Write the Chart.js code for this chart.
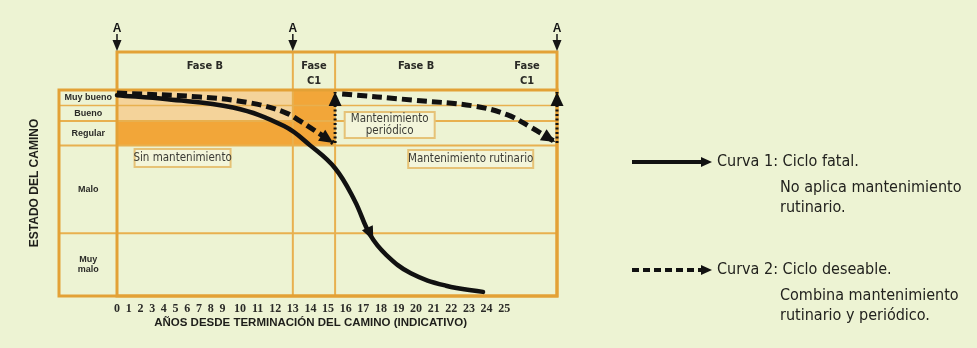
<!DOCTYPE html>
<html>
<head>
<meta charset="utf-8">
<script src="https://cdn.jsdelivr.net/npm/chart.js@4.4.1/dist/chart.umd.min.js"></script>
<style>
    html, body { margin: 0; padding: 0; background: #edf3d3; }
</style>
</head>
<body>
<canvas id="roadConditionCycleChart" width="977" height="348"></canvas>
<script>

// x = years since road completion, y = road condition index (0 = worst, 100 = best)
const yearTicks = [0, 1, 2, 3, 4, 5, 6, 7, 8, 9, 10, 11, 12, 13, 14, 15, 16, 17, 18, 19, 20, 21, 22, 23, 24, 25];

const conditionLabels = [['Muy', 'malo'], ['Malo'], ['Regular'], ['Bueno'], ['Muy bueno']];
const conditionEdges = [0, 30.5, 73, 85, 92.5, 100];

const phaseLabels = [['Fase B'], ['Fase', 'C1'], ['Fase B'], ['Fase', 'C1']];
const phaseEdges = [0, 13, 15.4, 24.6, 28];
const phaseLines = [0, 13, 15.4, 28];
const interventionYears = [0, 13, 28];

// curve 1: no routine maintenance
const fatalYears = [0, 4.3, 9.6, 12.5, 14, 15.4, 16.5, 17.4, 18.3, 19.7, 21.7, 23.8];
const fatalCondition = [97.5, 95.5, 91.5, 82.5, 73, 62, 46.5, 29.5, 20, 11, 5, 2];

// curve 2: routine + periodic maintenance
const desiredYearsA = [0, 7.1, 10.6, 12.5, 13.4, 15.3];
const desiredConditionA = [98.5, 96.6, 93.7, 89.3, 85, 74.3];
const desiredYearsB = [15.8, 19.8, 23.3, 25.2, 26.5, 27.9];
const desiredConditionB = [98.1, 95.1, 92.2, 87.9, 82, 74.8];

// periodic maintenance jumps back up
const periodicYears = [15.4, 28];
const periodicCondition = [74.3, 99];

const legendNotes = [
    ['No aplica mantenimiento', 'rutinario.'],
    ['Combina mantenimiento', 'rutinario y periódico.']
];


// linear scale with the years after 9 stretched, like the printed tick row
class YearScale extends Chart.LinearScale {
    _stretched(v) {
        const s = this.options.stretch;
        return v <= s.split ? v : s.split + (v - s.split) * s.ratio;
    }
    getPixelForValue(value) {
        if (value === null || isNaN(value)) {
            return NaN;
        }
        const a = this._stretched(this.min);
        const b = this._stretched(this.max);
        return this.getPixelForDecimal((this._stretched(value) - a) / (b - a));
    }
    getValueForPixel(pixel) {
        const s = this.options.stretch;
        const a = this._stretched(this.min);
        const b = this._stretched(this.max);
        const u = a + this.getDecimalForPixel(pixel) * (b - a);
        return u <= s.split ? u : s.split + (u - s.split) / s.ratio;
    }
}
YearScale.id = 'years';
YearScale.defaults = Chart.LinearScale.defaults;
Chart.register(YearScale);


function toPoints(xs, ys) {
    return xs.map((v, i) => ({x: v, y: ys[i]}));
}

function arrowHead(ctx, tipX, tipY, fromX, fromY, len, half) {
    const a = Math.atan2(tipY - fromY, tipX - fromX);
    const bx = tipX - len * Math.cos(a);
    const by = tipY - len * Math.sin(a);
    ctx.beginPath();
    ctx.moveTo(tipX, tipY);
    ctx.lineTo(bx + half * Math.sin(a), by - half * Math.cos(a));
    ctx.lineTo(bx - half * Math.sin(a), by + half * Math.cos(a));
    ctx.closePath();
    ctx.fill();
}

function line(ctx, x0, y0, x1, y1) {
    ctx.beginPath();
    ctx.moveTo(x0, y0);
    ctx.lineTo(x1, y1);
    ctx.stroke();
}

const condensed = '"Liberation Sans Narrow", "DejaVu Sans Condensed", sans-serif';

const roadDiagram = {
    id: 'roadDiagram',

    beforeDatasetsDraw(chart, args, opts) {
        const {ctx, chartArea: area, scales: {x, y}} = chart;
        ctx.save();

        opts.shades.forEach(s => {
            const x0 = x.getPixelForValue(s.years[0]);
            const x1 = x.getPixelForValue(s.years[1]);
            const y0 = y.getPixelForValue(s.condition[1]);
            const y1 = y.getPixelForValue(s.condition[0]);
            ctx.fillStyle = s.color;
            ctx.fillRect(x0, y0, x1 - x0, y1 - y0);
        });

        ctx.strokeStyle = opts.innerLine;
        conditionEdges.slice(1, -1).forEach((c, i) => {
            ctx.lineWidth = i === 3 ? 1.5 : 2;
            line(ctx, opts.columnLeft, y.getPixelForValue(c), area.right, y.getPixelForValue(c));
        });
        ctx.lineWidth = 2;
        phaseLines.slice(1, -1).forEach(v => {
            line(ctx, x.getPixelForValue(v), opts.headerTop, x.getPixelForValue(v), area.bottom);
        });

        ctx.strokeStyle = opts.frameLine;
        ctx.lineWidth = 3;
        ctx.strokeRect(opts.columnLeft, area.top, area.right - opts.columnLeft, area.bottom - area.top);
        ctx.strokeRect(area.left, opts.headerTop, area.right - area.left, area.bottom - opts.headerTop);

        // note boxes
        ctx.font = '11.5px ' + condensed;
        ctx.textAlign = 'center';
        ctx.textBaseline = 'middle';
        opts.notes.forEach(n => {
            const cx = x.getPixelForValue(n.year);
            const cy = y.getPixelForValue(n.condition);
            ctx.fillStyle = '#f3f5da';
            ctx.fillRect(cx - n.w / 2, cy - n.h / 2, n.w, n.h);
            ctx.strokeStyle = '#e6c276';
            ctx.lineWidth = 2;
            ctx.strokeRect(cx - n.w / 2, cy - n.h / 2, n.w, n.h);
            ctx.fillStyle = '#3b3b35';
            n.text.forEach((t, i) => {
                ctx.fillText(t, cx, cy + (i - (n.text.length - 1) / 2) * 12.5);
            });
        });
        ctx.restore();
    },

    afterDatasetsDraw(chart) {
        const ctx = chart.ctx;
        ctx.save();
        ctx.fillStyle = '#111';
        chart.data.datasets.forEach((ds, i) => {
            const pts = chart.getDatasetMeta(i).data;
            if (ds.midArrow !== undefined) {
                const p = pts[ds.midArrow], a = pts[ds.midArrow - 1], b = pts[ds.midArrow + 1];
                const d = Math.hypot(b.x - a.x, b.y - a.y);
                arrowHead(ctx, p.x + (b.x - a.x) / d * 6, p.y + (b.y - a.y) / d * 6, a.x, a.y, 14, 6);
            }
            if (ds.endArrow) {
                const p = pts[pts.length - 1], q = pts[pts.length - 2];
                arrowHead(ctx, p.x, p.y, q.x, q.y, 14, 6.5);
            }
        });
        ctx.restore();
    },

    afterDraw(chart, args, opts) {
        const {ctx, chartArea: area, scales: {x, y}} = chart;
        ctx.save();
        ctx.fillStyle = '#2a2a26';
        ctx.textAlign = 'center';
        ctx.textBaseline = 'middle';

        // phase header
        ctx.font = 'bold 11px ' + condensed;
        phaseLabels.forEach((lab, i) => {
            const cx = (x.getPixelForValue(phaseEdges[i]) + x.getPixelForValue(phaseEdges[i + 1])) / 2;
            lab.forEach((t, j) => ctx.fillText(t, cx, opts.headerTop + 14 + j * 15));
        });

        // intervention markers
        ctx.fillStyle = '#151515';
        interventionYears.forEach(v => {
            const px = x.getPixelForValue(v);
            ctx.font = 'bold 12px "Liberation Sans", Arial, sans-serif';
            ctx.fillText('A', px, 29);
            ctx.strokeStyle = '#151515';
            ctx.lineWidth = 1.5;
            line(ctx, px, 34, px, 42);
            ctx.beginPath();
            ctx.moveTo(px - 4.5, 40);
            ctx.lineTo(px + 4.5, 40);
            ctx.lineTo(px, opts.headerTop - 1);
            ctx.closePath();
            ctx.fill();
        });

        // axis titles
        ctx.fillStyle = '#1e1e1a';
        ctx.font = 'bold 11.5px "Liberation Sans", Arial, sans-serif';
        ctx.fillText('AÑOS DESDE TERMINACIÓN DEL CAMINO (INDICATIVO)',
            (x.getPixelForValue(yearTicks[0]) + x.getPixelForValue(yearTicks[yearTicks.length - 1])) / 2, 323);
        ctx.save();
        ctx.translate(35, (area.top + area.bottom) / 2 - 10);
        ctx.rotate(-Math.PI / 2);
        ctx.font = 'bold 12px "Liberation Sans", Arial, sans-serif';
        ctx.fillText('ESTADO DEL CAMINO', 0, 0);
        ctx.restore();

        // legend
        const lg = opts.legend;
        ctx.textAlign = 'left';
        lg.rows.forEach((rowY, i) => {
            const ds = chart.data.datasets[i === 0 ? 0 : 1];
            ctx.strokeStyle = '#111';
            ctx.fillStyle = '#111';
            ctx.lineWidth = 4;
            ctx.setLineDash(i === 0 ? [] : [7, 4]);
            line(ctx, lg.lineStart, rowY, lg.lineEnd - 8, rowY);
            ctx.setLineDash([]);
            arrowHead(ctx, lg.lineEnd, rowY, lg.lineStart, rowY, 11, 5);
            ctx.fillStyle = '#22221e';
            ctx.font = '16px ' + condensed;
            ctx.fillText(ds.label, lg.textX, rowY);
            legendNotes[i].forEach((t, j) => ctx.fillText(t, lg.noteX, rowY + 26 + j * 20));
        });
        ctx.restore();
    }
};


function createRoadCycleChart() {

    const data = {
        datasets: [{
            label: 'Curva 1: Ciclo fatal.',
            data: toPoints(fatalYears, fatalCondition),
            borderColor: '#111',
            borderWidth: 4.5,
            borderCapStyle: 'round',
            tension: 0.4,
            midArrow: 7
            },
            {
            label: 'Curva 2: Ciclo deseable.',
            data: toPoints(desiredYearsA, desiredConditionA),
            borderColor: '#111',
            borderWidth: 5,
            borderDash: [10, 5],
            tension: 0.4,
            endArrow: true
            },
            {
            label: 'Curva 2: Ciclo deseable.',
            data: toPoints(desiredYearsB, desiredConditionB),
            borderColor: '#111',
            borderWidth: 5,
            borderDash: [10, 5],
            tension: 0.4,
            endArrow: true
            },
            {
            label: 'Mantenimiento periódico',
            data: toPoints([periodicYears[0], periodicYears[0]], periodicCondition),
            borderColor: '#111',
            borderWidth: 3,
            borderDash: [2, 2.5],
            endArrow: true
            },
            {
            label: 'Mantenimiento periódico',
            data: toPoints([periodicYears[1], periodicYears[1]], periodicCondition),
            borderColor: '#111',
            borderWidth: 3,
            borderDash: [2, 2.5],
            endArrow: true
            }
        ]
    };

    const config = {
        type: 'scatter',
        data: data,
        options: {
            responsive: false,
            animation: false,
            showLine: true,
            clip: false,
            elements: {
                point: { radius: 0, hoverRadius: 0 }
            },
            layout: {
                padding: { top: 90, right: 420, left: 0, bottom: 0 }
            },
            plugins: {
                legend: { display: false },
                tooltip: { enabled: false },
                roadDiagram: {
                    columnLeft: 59,
                    headerTop: 52,
                    frameLine: '#e3a136',
                    innerLine: '#e8b04f',
                    shades: [
                        { years: [0, 13], condition: [85, 100], color: '#f4d39a' },
                        { years: [0, 15.4], condition: [73, 85], color: '#f2a639' },
                        { years: [13, 15.4], condition: [73, 100], color: '#f2a639' }
                    ],
                    notes: [
                        { year: 5.6, condition: 67, w: 96, h: 18, text: ['Sin mantenimiento'] },
                        { year: 18.5, condition: 83, w: 90, h: 26, text: ['Mantenimiento', 'periódico'] },
                        { year: 23.1, condition: 66.5, w: 125, h: 18, text: ['Mantenimiento rutinario'] }
                    ],
                    legend: { lineStart: 632, lineEnd: 712, textX: 717, noteX: 780, rows: [162, 270] }
                }
            },
            scales: {
                x: {
                    type: 'years',
                    min: 0,
                    max: 28,
                    stretch: { split: 9, ratio: 1.504 },
                    afterBuildTicks: s => { s.ticks = yearTicks.map(v => ({value: v})); },
                    afterFit: s => { s.height = 52; },
                    grid: { display: false },
                    border: { display: false },
                    ticks: {
                        autoSkip: false,
                        maxRotation: 0,
                        padding: -2,
                        color: '#2b2b28',
                        font: { family: '"Liberation Serif", serif', weight: 'bold', size: 12 }
                    }
                },
                y: {
                    min: 0,
                    max: 100,
                    afterBuildTicks: s => {
                        s.ticks = conditionLabels.map((l, i) => ({value: (conditionEdges[i] + conditionEdges[i + 1]) / 2}));
                    },
                    afterFit: s => { s.width = 117; },
                    grid: { display: false },
                    border: { display: false },
                    ticks: {
                        crossAlign: 'center',
                        padding: -3,
                        color: '#2b2b28',
                        font: { family: '"Liberation Sans", Arial, sans-serif', weight: 'bold', size: 9, lineHeight: 1.15 },
                        callback: (value, index) => conditionLabels[index]
                    }
                }
            }
        },
        plugins: [roadDiagram]
    };

    new Chart(
        document.getElementById('roadConditionCycleChart'),
        config
    );
}

createRoadCycleChart();
</script>
</body>
</html>
